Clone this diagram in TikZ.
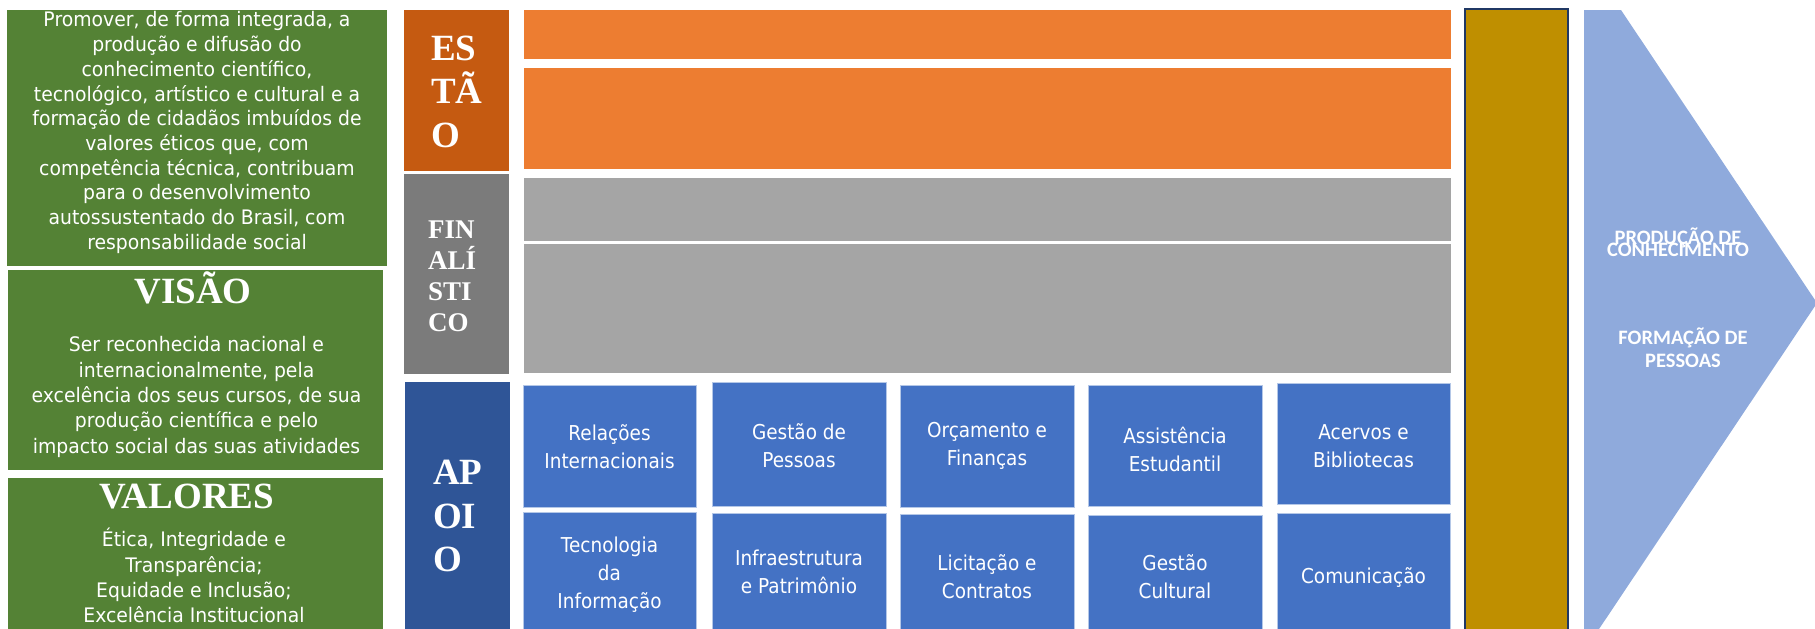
\documentclass[tikz,border=0pt]{standalone}
\usepackage{fontspec}
\setmainfont{Liberation Serif}
\newfontfamily\tahfont[FakeStretch=0.94]{DejaVu Sans}
\newfontfamily\tahbfont[FakeStretch=0.9]{DejaVu Sans}
\newfontfamily\calfont{Carlito}
\newcommand{\tightlines}{\lineskiplimit=-100pt\relax\lineskip=0pt\relax}
\definecolor{cGreen}{HTML}{548235}
\definecolor{cOrgDark}{HTML}{C55A11}
\definecolor{cOrg}{HTML}{ED7D31}
\definecolor{cGrayDark}{HTML}{7B7B7B}
\definecolor{cGray}{HTML}{A5A5A5}
\definecolor{cNavy}{HTML}{2F5597}
\definecolor{cBlue}{HTML}{4472C4}
\definecolor{cBlueLine}{HTML}{B4C7E7}
\definecolor{cGold}{HTML}{BF8F00}
\definecolor{cGoldLine}{HTML}{203864}
\definecolor{cArrow}{HTML}{8FAADC}
\begin{document}
\begin{tikzpicture}[x=1pt,y=-1pt,
  mtext/.style={font=\tahfont\fontsize{20}{24.7}\selectfont, text=white, align=center, inner sep=0},
  btext/.style={font=\tahbfont\fontsize{20.5}{28}\selectfont, text=white, align=center, inner sep=0},
  head/.style={font=\bfseries\fontsize{37}{40}\selectfont, text=white, inner sep=0, anchor=base},
  vlab/.style={font=\bfseries\fontsize{37}{43.5}\selectfont, text=white, align=left, inner sep=0, anchor=west},
  vlabs/.style={font=\bfseries\fontsize{27}{31}\selectfont, text=white, align=left, inner sep=0, anchor=west},
  atext/.style={font=\calfont\bfseries\fontsize{20.5}{23}\selectfont, text=white, align=center, inner sep=0},
  bluebox/.style={fill=cBlue, draw=cBlueLine, line width=1pt},
]
\useasboundingbox (0,0) rectangle (1815,629);
% left green boxes
\fill[cGreen] (7,10) rectangle (387,266);
\fill[cGreen] (8,270) rectangle (383,470);
\fill[cGreen] (8,478) rectangle (383,640);
\node[mtext] (missao) at (197,132.6) {Promover, de forma integrada, a\\produção e difusão do\\conhecimento científico,\\tecnológico, artístico e cultural e a\\formação de cidadãos imbuídos de\\valores éticos que, com\\competência técnica, contribuam\\para o desenvolvimento\\autossustentado do Brasil, com\\responsabilidade social};
\node[head] (visao) at (193,303) {VISÃO};
\node[mtext,font=\tahfont\fontsize{20}{25.3}\selectfont] (visaotxt) at (196.5,397) {Ser reconhecida nacional e\\internacionalmente, pela\\excelência dos seus cursos, de sua\\produção científica e pelo\\impacto social das suas atividades};
\node[head] (valores) at (187,508) {VALORES};
\node[mtext,font=\tahfont\fontsize{20}{25.2}\selectfont] (valorestxt) at (194,575.5) {Ética, Integridade e\\Transparência;\\Equidade e Inclusão;\\Excelência Institucional};
% vertical labels
\fill[cOrgDark] (404,10) rectangle (509,171);
\fill[cGrayDark] (404,174) rectangle (509,374);
\fill[cNavy] (405,382) rectangle (510,640);
\node[vlab] (estao) at (431,91.5) {ES\\TÃ\\O};
\node[vlabs] (final) at (428,276.5) {FIN\\ALÍ\\STI\\CO};
\node[vlab] (apoio) at (433,516) {AP\\OI\\O};
% middle bars
\fill[cOrg] (524,10) rectangle (1451,59);
\fill[cOrg] (524,68) rectangle (1451,169);
\fill[cGray] (524,178) rectangle (1451,241);
\fill[cGray] (524,244) rectangle (1451,373);
% blue boxes row 1
\draw[bluebox] (523,385) rectangle (696,507);
\draw[bluebox] (712,382) rectangle (886,506);
\draw[bluebox] (900,385) rectangle (1074,507);
\draw[bluebox] (1088,385) rectangle (1262,506);
\draw[bluebox] (1277,383) rectangle (1450,504);
% blue boxes row 2
\draw[bluebox] (523,512) rectangle (696,640);
\draw[bluebox] (712,513) rectangle (886,640);
\draw[bluebox] (900,514) rectangle (1074,640);
\draw[bluebox] (1088,515) rectangle (1262,640);
\draw[bluebox] (1277,513) rectangle (1450,640);
\node[btext] (rel) at (609.5,446.5) {Relações\\Internacionais};
\node[btext] (gp) at (799,445.5) {Gestão de\\Pessoas};
\node[btext] (orc) at (987,446) {Orçamento e\\Finanças};
\node[btext] (ass) at (1175,449.5) {Assistência\\Estudantil};
\node[btext] (ace) at (1363.5,446) {Acervos e\\Bibliotecas};
\node[btext] (tec) at (609.5,575) {Tecnologia\\da\\Informação};
\node[btext] (inf) at (799,571.5) {Infraestrutura\\e Patrimônio};
\node[btext] (lic) at (987,576.5) {Licitação e\\Contratos};
\node[btext] (gc) at (1175,576.5) {Gestão\\Cultural};
\node[btext] (com) at (1363.5,578) {Comunicação};
% gold bar
\draw[fill=cGold, draw=cGoldLine, line width=2pt] (1465,9) rectangle (1568,645);
% arrow
\fill[cArrow] (1584,10) -- (1621,10) -- (1817,303) -- (1585,650) -- (1584,650) -- cycle;
\node[atext,font={\calfont\bfseries\fontsize{20.5}{12}\selectfont\tightlines}] (prod) at (1678,242) {PRODUÇÃO DE\\CONHECIMENTO};
\node[atext] (form) at (1683,347.5) {FORMAÇÃO DE\\PESSOAS};
\end{tikzpicture}
\end{document}
